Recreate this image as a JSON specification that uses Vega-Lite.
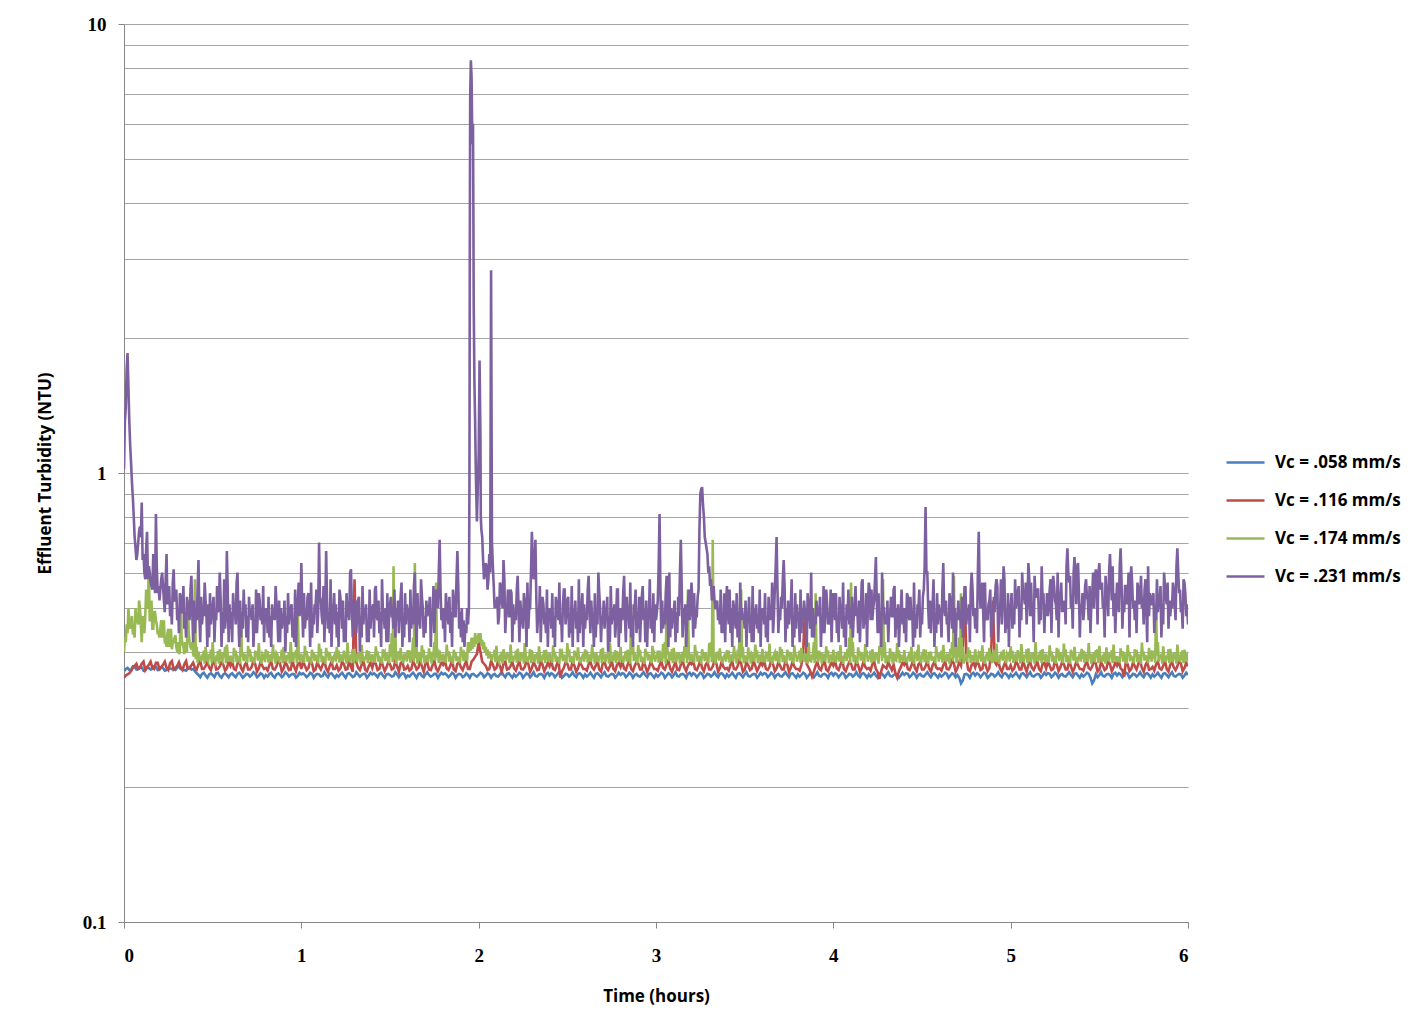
{
  "$schema": "https://vega.github.io/schema/vega-lite/v6.json",
  "width": 1064,
  "height": 898,
  "autosize": "none",
  "padding": {"left": 124, "top": 24, "right": 236, "bottom": 113},
  "background": "white",
  "data": {
    "values": [
      {"t":0.00,"a":0.362,"b":0.350,"c":0.400,"d":1.02},
      {"t":0.02,"a":0.368,"b":0.356,"c":0.440,"d":1.85},
      {"t":0.04,"a":0.365,"b":0.362,"c":0.470,"d":1.05},
      {"t":0.06,"a":0.370,"b":0.372,"c":0.430,"d":0.72},
      {"t":0.08,"a":0.366,"b":0.366,"c":0.460,"d":0.70},
      {"t":0.10,"a":0.369,"b":0.376,"c":0.420,"d":0.86},
      {"t":0.12,"a":0.364,"b":0.364,"c":0.480,"d":0.58},
      {"t":0.14,"a":0.368,"b":0.374,"c":0.620,"d":0.62},
      {"t":0.16,"a":0.366,"b":0.368,"c":0.450,"d":0.55},
      {"t":0.18,"a":0.370,"b":0.378,"c":0.470,"d":0.81},
      {"t":0.20,"a":0.365,"b":0.366,"c":0.430,"d":0.52},
      {"t":0.22,"a":0.368,"b":0.374,"c":0.460,"d":0.56},
      {"t":0.24,"a":0.364,"b":0.368,"c":0.410,"d":0.66},
      {"t":0.26,"a":0.367,"b":0.377,"c":0.440,"d":0.48},
      {"t":0.28,"a":0.365,"b":0.365,"c":0.420,"d":0.61},
      {"t":0.30,"a":0.369,"b":0.372,"c":0.400,"d":0.47},
      {"t":0.32,"a":0.366,"b":0.369,"c":0.530,"d":0.53},
      {"t":0.34,"a":0.364,"b":0.375,"c":0.395,"d":0.45},
      {"t":0.36,"a":0.368,"b":0.366,"c":0.520,"d":0.50},
      {"t":0.38,"a":0.365,"b":0.373,"c":0.405,"d":0.59},
      {"t":0.40,"a":0.362,"b":0.368,"c":0.580,"d":0.44},
      {"t":0.42,"a":0.355,"b":0.375,"c":0.400,"d":0.64},
      {"t":0.44,"a":0.357,"b":0.366,"c":0.390,"d":0.46},
      {"t":0.46,"a":0.354,"b":0.372,"c":0.410,"d":0.52},
      {"t":0.48,"a":0.356,"b":0.369,"c":0.395,"d":0.43},
      {"t":0.50,"a":0.355,"b":0.377,"c":0.420,"d":0.50},
      {"t":0.52,"a":0.358,"b":0.365,"c":0.388,"d":0.47},
      {"t":0.54,"a":0.353,"b":0.371,"c":0.405,"d":0.60},
      {"t":0.56,"a":0.356,"b":0.374,"c":0.398,"d":0.44},
      {"t":0.58,"a":0.355,"b":0.367,"c":0.415,"d":0.67},
      {"t":0.60,"a":0.356,"b":0.372,"c":0.392,"d":0.45},
      {"t":0.62,"a":0.354,"b":0.366,"c":0.408,"d":0.49},
      {"t":0.64,"a":0.357,"b":0.376,"c":0.390,"d":0.60},
      {"t":0.66,"a":0.355,"b":0.368,"c":0.490,"d":0.43},
      {"t":0.68,"a":0.353,"b":0.373,"c":0.396,"d":0.48},
      {"t":0.70,"a":0.356,"b":0.365,"c":0.412,"d":0.42},
      {"t":0.72,"a":0.355,"b":0.370,"c":0.389,"d":0.47},
      {"t":0.74,"a":0.357,"b":0.375,"c":0.402,"d":0.44},
      {"t":0.76,"a":0.354,"b":0.367,"c":0.418,"d":0.54},
      {"t":0.78,"a":0.356,"b":0.372,"c":0.394,"d":0.46},
      {"t":0.80,"a":0.355,"b":0.368,"c":0.405,"d":0.48},
      {"t":0.82,"a":0.357,"b":0.374,"c":0.391,"d":0.43},
      {"t":0.84,"a":0.353,"b":0.366,"c":0.415,"d":0.47},
      {"t":0.86,"a":0.356,"b":0.371,"c":0.397,"d":0.51},
      {"t":0.88,"a":0.355,"b":0.376,"c":0.388,"d":0.42},
      {"t":0.90,"a":0.354,"b":0.367,"c":0.410,"d":0.47},
      {"t":0.92,"a":0.357,"b":0.373,"c":0.393,"d":0.44},
      {"t":0.94,"a":0.355,"b":0.365,"c":0.420,"d":0.50},
      {"t":0.96,"a":0.356,"b":0.370,"c":0.399,"d":0.42},
      {"t":0.98,"a":0.353,"b":0.375,"c":0.500,"d":0.52},
      {"t":1.00,"a":0.356,"b":0.366,"c":0.396,"d":0.63},
      {"t":1.02,"a":0.355,"b":0.372,"c":0.412,"d":0.45},
      {"t":1.04,"a":0.354,"b":0.368,"c":0.389,"d":0.54},
      {"t":1.06,"a":0.357,"b":0.377,"c":0.404,"d":0.43},
      {"t":1.08,"a":0.355,"b":0.365,"c":0.394,"d":0.50},
      {"t":1.10,"a":0.356,"b":0.371,"c":0.417,"d":0.70},
      {"t":1.12,"a":0.353,"b":0.374,"c":0.391,"d":0.46},
      {"t":1.14,"a":0.355,"b":0.367,"c":0.408,"d":0.67},
      {"t":1.16,"a":0.357,"b":0.372,"c":0.398,"d":0.44},
      {"t":1.18,"a":0.354,"b":0.366,"c":0.387,"d":0.49},
      {"t":1.20,"a":0.355,"b":0.373,"c":0.410,"d":0.43},
      {"t":1.22,"a":0.356,"b":0.367,"c":0.393,"d":0.53},
      {"t":1.24,"a":0.354,"b":0.375,"c":0.402,"d":0.42},
      {"t":1.26,"a":0.357,"b":0.366,"c":0.419,"d":0.48},
      {"t":1.28,"a":0.355,"b":0.370,"c":0.390,"d":0.61},
      {"t":1.30,"a":0.353,"b":0.580,"c":0.406,"d":0.46},
      {"t":1.32,"a":0.356,"b":0.368,"c":0.397,"d":0.52},
      {"t":1.34,"a":0.355,"b":0.374,"c":0.414,"d":0.43},
      {"t":1.36,"a":0.357,"b":0.365,"c":0.388,"d":0.48},
      {"t":1.38,"a":0.354,"b":0.371,"c":0.401,"d":0.42},
      {"t":1.40,"a":0.356,"b":0.368,"c":0.395,"d":0.50},
      {"t":1.42,"a":0.355,"b":0.376,"c":0.411,"d":0.56},
      {"t":1.44,"a":0.357,"b":0.366,"c":0.389,"d":0.44},
      {"t":1.46,"a":0.354,"b":0.372,"c":0.405,"d":0.49},
      {"t":1.48,"a":0.356,"b":0.369,"c":0.398,"d":0.42},
      {"t":1.50,"a":0.355,"b":0.375,"c":0.416,"d":0.51},
      {"t":1.52,"a":0.353,"b":0.367,"c":0.620,"d":0.45},
      {"t":1.54,"a":0.356,"b":0.371,"c":0.392,"d":0.47},
      {"t":1.56,"a":0.355,"b":0.377,"c":0.408,"d":0.53},
      {"t":1.58,"a":0.357,"b":0.365,"c":0.396,"d":0.43},
      {"t":1.60,"a":0.354,"b":0.372,"c":0.403,"d":0.49},
      {"t":1.62,"a":0.356,"b":0.366,"c":0.390,"d":0.45},
      {"t":1.64,"a":0.355,"b":0.374,"c":0.630,"d":0.60},
      {"t":1.66,"a":0.357,"b":0.368,"c":0.399,"d":0.46},
      {"t":1.68,"a":0.353,"b":0.371,"c":0.413,"d":0.53},
      {"t":1.70,"a":0.356,"b":0.376,"c":0.388,"d":0.44},
      {"t":1.72,"a":0.355,"b":0.365,"c":0.407,"d":0.50},
      {"t":1.74,"a":0.354,"b":0.373,"c":0.395,"d":0.47},
      {"t":1.76,"a":0.357,"b":0.367,"c":0.570,"d":0.55},
      {"t":1.78,"a":0.355,"b":0.370,"c":0.402,"d":0.71},
      {"t":1.80,"a":0.356,"b":0.374,"c":0.396,"d":0.45},
      {"t":1.82,"a":0.355,"b":0.367,"c":0.415,"d":0.51},
      {"t":1.84,"a":0.354,"b":0.372,"c":0.391,"d":0.44},
      {"t":1.86,"a":0.357,"b":0.365,"c":0.404,"d":0.52},
      {"t":1.88,"a":0.355,"b":0.376,"c":0.389,"d":0.67},
      {"t":1.90,"a":0.356,"b":0.369,"c":0.410,"d":0.43},
      {"t":1.92,"a":0.353,"b":0.373,"c":0.398,"d":0.41},
      {"t":1.94,"a":0.355,"b":0.366,"c":0.420,"d":0.46},
      {"t":1.948,"d":0.95},
      {"t":1.952,"d":6.8},
      {"t":1.956,"d":8.3},
      {"t":1.96,"a":0.356,"b":0.380,"c":0.430,"d":7.6},
      {"t":1.964,"d":5.4},
      {"t":1.968,"d":6.0},
      {"t":1.972,"d":2.4},
      {"t":1.976,"d":1.6},
      {"t":1.98,"a":0.354,"b":0.390,"c":0.440,"d":1.30},
      {"t":1.984,"d":1.0},
      {"t":2.00,"a":0.355,"b":0.420,"c":0.440,"d":1.10},
      {"t":2.005,"d":1.78},
      {"t":2.012,"d":0.80},
      {"t":2.02,"a":0.357,"b":0.380,"c":0.425,"d":0.72},
      {"t":2.04,"a":0.354,"b":0.372,"c":0.410,"d":0.63},
      {"t":2.06,"a":0.356,"b":0.366,"c":0.400,"d":0.66},
      {"t":2.08,"a":0.355,"b":0.374,"c":0.395,"d":0.62},
      {"t":2.10,"a":0.353,"b":0.368,"c":0.412,"d":0.50},
      {"t":2.12,"a":0.356,"b":0.371,"c":0.389,"d":0.57},
      {"t":2.14,"a":0.355,"b":0.376,"c":0.405,"d":0.64},
      {"t":2.16,"a":0.357,"b":0.365,"c":0.397,"d":0.49},
      {"t":2.18,"a":0.354,"b":0.372,"c":0.415,"d":0.55},
      {"t":2.20,"a":0.356,"b":0.367,"c":0.392,"d":0.46},
      {"t":2.22,"a":0.355,"b":0.373,"c":0.406,"d":0.59},
      {"t":2.24,"a":0.357,"b":0.366,"c":0.399,"d":0.48},
      {"t":2.26,"a":0.354,"b":0.370,"c":0.418,"d":0.52},
      {"t":2.28,"a":0.356,"b":0.375,"c":0.388,"d":0.45},
      {"t":2.30,"a":0.355,"b":0.368,"c":0.403,"d":0.74},
      {"t":2.32,"a":0.353,"b":0.372,"c":0.395,"d":0.71},
      {"t":2.34,"a":0.356,"b":0.365,"c":0.411,"d":0.47},
      {"t":2.36,"a":0.355,"b":0.374,"c":0.390,"d":0.53},
      {"t":2.38,"a":0.357,"b":0.369,"c":0.404,"d":0.44},
      {"t":2.40,"a":0.354,"b":0.371,"c":0.397,"d":0.49},
      {"t":2.42,"a":0.356,"b":0.366,"c":0.413,"d":0.43},
      {"t":2.44,"a":0.355,"b":0.374,"c":0.389,"d":0.51},
      {"t":2.46,"a":0.357,"b":0.350,"c":0.406,"d":0.46},
      {"t":2.48,"a":0.353,"b":0.368,"c":0.394,"d":0.55},
      {"t":2.50,"a":0.356,"b":0.376,"c":0.418,"d":0.52},
      {"t":2.52,"a":0.355,"b":0.365,"c":0.391,"d":0.44},
      {"t":2.54,"a":0.354,"b":0.372,"c":0.402,"d":0.48},
      {"t":2.56,"a":0.357,"b":0.367,"c":0.409,"d":0.42},
      {"t":2.58,"a":0.355,"b":0.373,"c":0.388,"d":0.50},
      {"t":2.60,"a":0.356,"b":0.366,"c":0.405,"d":0.45},
      {"t":2.62,"a":0.355,"b":0.375,"c":0.393,"d":0.59},
      {"t":2.64,"a":0.354,"b":0.369,"c":0.415,"d":0.47},
      {"t":2.66,"a":0.357,"b":0.372,"c":0.398,"d":0.43},
      {"t":2.68,"a":0.355,"b":0.365,"c":0.389,"d":0.54},
      {"t":2.70,"a":0.356,"b":0.377,"c":0.408,"d":0.46},
      {"t":2.72,"a":0.353,"b":0.368,"c":0.396,"d":0.49},
      {"t":2.74,"a":0.355,"b":0.371,"c":0.419,"d":0.42},
      {"t":2.76,"a":0.356,"b":0.366,"c":0.392,"d":0.47},
      {"t":2.78,"a":0.354,"b":0.374,"c":0.401,"d":0.55},
      {"t":2.80,"a":0.355,"b":0.370,"c":0.410,"d":0.44},
      {"t":2.82,"a":0.357,"b":0.367,"c":0.390,"d":0.59},
      {"t":2.84,"a":0.354,"b":0.374,"c":0.404,"d":0.48},
      {"t":2.86,"a":0.356,"b":0.366,"c":0.510,"d":0.43},
      {"t":2.88,"a":0.355,"b":0.372,"c":0.397,"d":0.50},
      {"t":2.90,"a":0.353,"b":0.376,"c":0.414,"d":0.45},
      {"t":2.92,"a":0.356,"b":0.365,"c":0.388,"d":0.53},
      {"t":2.94,"a":0.355,"b":0.371,"c":0.406,"d":0.42},
      {"t":2.96,"a":0.357,"b":0.368,"c":0.395,"d":0.48},
      {"t":2.98,"a":0.354,"b":0.373,"c":0.412,"d":0.44},
      {"t":3.00,"a":0.356,"b":0.366,"c":0.393,"d":0.47},
      {"t":3.02,"a":0.355,"b":0.373,"c":0.402,"d":0.81},
      {"t":3.04,"a":0.357,"b":0.368,"c":0.416,"d":0.45},
      {"t":3.06,"a":0.354,"b":0.375,"c":0.530,"d":0.59},
      {"t":3.08,"a":0.356,"b":0.367,"c":0.391,"d":0.43},
      {"t":3.10,"a":0.355,"b":0.371,"c":0.408,"d":0.49},
      {"t":3.12,"a":0.353,"b":0.365,"c":0.399,"d":0.44},
      {"t":3.14,"a":0.356,"b":0.374,"c":0.389,"d":0.71},
      {"t":3.16,"a":0.355,"b":0.369,"c":0.411,"d":0.46},
      {"t":3.18,"a":0.357,"b":0.372,"c":0.550,"d":0.51},
      {"t":3.20,"a":0.354,"b":0.375,"c":0.396,"d":0.57},
      {"t":3.22,"a":0.356,"b":0.366,"c":0.414,"d":0.45},
      {"t":3.24,"a":0.355,"b":0.372,"c":0.392,"d":0.55},
      {"t":3.26,"a":0.357,"b":0.368,"c":0.405,"d":0.93},
      {"t":3.28,"a":0.353,"b":0.374,"c":0.398,"d":0.70},
      {"t":3.30,"a":0.356,"b":0.365,"c":0.418,"d":0.62},
      {"t":3.32,"a":0.355,"b":0.371,"c":0.710,"d":0.55},
      {"t":3.34,"a":0.354,"b":0.377,"c":0.394,"d":0.50},
      {"t":3.36,"a":0.357,"b":0.367,"c":0.407,"d":0.46},
      {"t":3.38,"a":0.355,"b":0.370,"c":0.389,"d":0.44},
      {"t":3.40,"a":0.356,"b":0.368,"c":0.403,"d":0.56},
      {"t":3.42,"a":0.355,"b":0.374,"c":0.391,"d":0.44},
      {"t":3.44,"a":0.354,"b":0.366,"c":0.412,"d":0.50},
      {"t":3.46,"a":0.357,"b":0.371,"c":0.397,"d":0.43},
      {"t":3.48,"a":0.355,"b":0.376,"c":0.550,"d":0.47},
      {"t":3.50,"a":0.356,"b":0.365,"c":0.390,"d":0.45},
      {"t":3.52,"a":0.353,"b":0.373,"c":0.409,"d":0.48},
      {"t":3.54,"a":0.355,"b":0.367,"c":0.396,"d":0.42},
      {"t":3.56,"a":0.356,"b":0.372,"c":0.415,"d":0.46},
      {"t":3.58,"a":0.354,"b":0.369,"c":0.388,"d":0.44},
      {"t":3.60,"a":0.355,"b":0.373,"c":0.406,"d":0.49},
      {"t":3.62,"a":0.357,"b":0.366,"c":0.395,"d":0.43},
      {"t":3.64,"a":0.354,"b":0.370,"c":0.417,"d":0.47},
      {"t":3.66,"a":0.356,"b":0.375,"c":0.389,"d":0.44},
      {"t":3.68,"a":0.355,"b":0.367,"c":0.401,"d":0.72},
      {"t":3.70,"a":0.353,"b":0.372,"c":0.410,"d":0.47},
      {"t":3.72,"a":0.356,"b":0.365,"c":0.393,"d":0.64},
      {"t":3.74,"a":0.355,"b":0.374,"c":0.404,"d":0.45},
      {"t":3.76,"a":0.357,"b":0.368,"c":0.398,"d":0.50},
      {"t":3.78,"a":0.354,"b":0.371,"c":0.413,"d":0.43},
      {"t":3.80,"a":0.356,"b":0.366,"c":0.391,"d":0.47},
      {"t":3.82,"a":0.355,"b":0.374,"c":0.408,"d":0.44},
      {"t":3.84,"a":0.357,"b":0.500,"c":0.396,"d":0.49},
      {"t":3.86,"a":0.354,"b":0.369,"c":0.419,"d":0.51},
      {"t":3.88,"a":0.356,"b":0.352,"c":0.390,"d":0.43},
      {"t":3.90,"a":0.355,"b":0.372,"c":0.540,"d":0.46},
      {"t":3.92,"a":0.353,"b":0.367,"c":0.402,"d":0.48},
      {"t":3.94,"a":0.356,"b":0.375,"c":0.394,"d":0.44},
      {"t":3.96,"a":0.355,"b":0.365,"c":0.411,"d":0.55},
      {"t":3.98,"a":0.357,"b":0.371,"c":0.388,"d":0.46},
      {"t":4.00,"a":0.354,"b":0.372,"c":0.404,"d":0.54},
      {"t":4.02,"a":0.356,"b":0.367,"c":0.397,"d":0.44},
      {"t":4.04,"a":0.355,"b":0.374,"c":0.414,"d":0.49},
      {"t":4.06,"a":0.357,"b":0.366,"c":0.389,"d":0.43},
      {"t":4.08,"a":0.353,"b":0.371,"c":0.406,"d":0.47},
      {"t":4.10,"a":0.356,"b":0.376,"c":0.570,"d":0.45},
      {"t":4.12,"a":0.355,"b":0.365,"c":0.393,"d":0.50},
      {"t":4.14,"a":0.354,"b":0.373,"c":0.409,"d":0.44},
      {"t":4.16,"a":0.357,"b":0.368,"c":0.399,"d":0.57},
      {"t":4.18,"a":0.355,"b":0.370,"c":0.416,"d":0.46},
      {"t":4.20,"a":0.356,"b":0.368,"c":0.391,"d":0.57},
      {"t":4.22,"a":0.355,"b":0.375,"c":0.405,"d":0.47},
      {"t":4.24,"a":0.354,"b":0.366,"c":0.398,"d":0.65},
      {"t":4.26,"a":0.357,"b":0.348,"c":0.412,"d":0.44},
      {"t":4.28,"a":0.355,"b":0.373,"c":0.580,"d":0.50},
      {"t":4.30,"a":0.356,"b":0.367,"c":0.390,"d":0.46},
      {"t":4.32,"a":0.353,"b":0.371,"c":0.407,"d":0.48},
      {"t":4.34,"a":0.355,"b":0.374,"c":0.395,"d":0.55},
      {"t":4.36,"a":0.356,"b":0.350,"c":0.418,"d":0.45},
      {"t":4.38,"a":0.354,"b":0.369,"c":0.392,"d":0.49},
      {"t":4.40,"a":0.355,"b":0.374,"c":0.403,"d":0.44},
      {"t":4.42,"a":0.357,"b":0.366,"c":0.389,"d":0.53},
      {"t":4.44,"a":0.354,"b":0.372,"c":0.410,"d":0.47},
      {"t":4.46,"a":0.356,"b":0.368,"c":0.396,"d":0.43},
      {"t":4.48,"a":0.355,"b":0.375,"c":0.415,"d":0.50},
      {"t":4.50,"a":0.353,"b":0.365,"c":0.392,"d":0.46},
      {"t":4.52,"a":0.356,"b":0.371,"c":0.404,"d":0.84},
      {"t":4.54,"a":0.355,"b":0.367,"c":0.399,"d":0.45},
      {"t":4.56,"a":0.357,"b":0.373,"c":0.388,"d":0.51},
      {"t":4.58,"a":0.354,"b":0.369,"c":0.411,"d":0.44},
      {"t":4.60,"a":0.356,"b":0.367,"c":0.397,"d":0.49},
      {"t":4.62,"a":0.355,"b":0.373,"c":0.414,"d":0.63},
      {"t":4.64,"a":0.357,"b":0.366,"c":0.391,"d":0.46},
      {"t":4.66,"a":0.354,"b":0.371,"c":0.406,"d":0.52},
      {"t":4.68,"a":0.356,"b":0.376,"c":0.590,"d":0.44},
      {"t":4.70,"a":0.355,"b":0.368,"c":0.398,"d":0.48},
      {"t":4.72,"a":0.340,"b":0.372,"c":0.540,"d":0.45},
      {"t":4.74,"a":0.356,"b":0.560,"c":0.393,"d":0.51},
      {"t":4.76,"a":0.355,"b":0.365,"c":0.409,"d":0.47},
      {"t":4.78,"a":0.357,"b":0.374,"c":0.390,"d":0.60},
      {"t":4.80,"a":0.354,"b":0.369,"c":0.405,"d":0.45},
      {"t":4.82,"a":0.356,"b":0.375,"c":0.396,"d":0.74},
      {"t":4.84,"a":0.355,"b":0.366,"c":0.413,"d":0.57},
      {"t":4.86,"a":0.357,"b":0.372,"c":0.390,"d":0.47},
      {"t":4.88,"a":0.353,"b":0.368,"c":0.408,"d":0.52},
      {"t":4.90,"a":0.356,"b":0.520,"c":0.399,"d":0.46},
      {"t":4.92,"a":0.355,"b":0.374,"c":0.417,"d":0.58},
      {"t":4.94,"a":0.354,"b":0.367,"c":0.392,"d":0.48},
      {"t":4.96,"a":0.357,"b":0.371,"c":0.404,"d":0.62},
      {"t":4.98,"a":0.355,"b":0.366,"c":0.395,"d":0.45},
      {"t":5.00,"a":0.356,"b":0.373,"c":0.411,"d":0.50},
      {"t":5.02,"a":0.355,"b":0.367,"c":0.389,"d":0.46},
      {"t":5.04,"a":0.354,"b":0.375,"c":0.403,"d":0.54},
      {"t":5.06,"a":0.357,"b":0.365,"c":0.416,"d":0.47},
      {"t":5.08,"a":0.355,"b":0.370,"c":0.394,"d":0.51},
      {"t":5.10,"a":0.356,"b":0.374,"c":0.407,"d":0.63},
      {"t":5.12,"a":0.353,"b":0.368,"c":0.398,"d":0.48},
      {"t":5.14,"a":0.355,"b":0.372,"c":0.420,"d":0.53},
      {"t":5.16,"a":0.356,"b":0.366,"c":0.391,"d":0.46},
      {"t":5.18,"a":0.354,"b":0.376,"c":0.405,"d":0.52},
      {"t":5.20,"a":0.355,"b":0.367,"c":0.396,"d":0.48},
      {"t":5.22,"a":0.357,"b":0.372,"c":0.413,"d":0.55},
      {"t":5.24,"a":0.354,"b":0.366,"c":0.390,"d":0.59},
      {"t":5.26,"a":0.356,"b":0.374,"c":0.408,"d":0.47},
      {"t":5.28,"a":0.355,"b":0.369,"c":0.399,"d":0.53},
      {"t":5.30,"a":0.353,"b":0.375,"c":0.417,"d":0.49},
      {"t":5.32,"a":0.356,"b":0.365,"c":0.393,"d":0.68},
      {"t":5.34,"a":0.355,"b":0.371,"c":0.404,"d":0.50},
      {"t":5.36,"a":0.357,"b":0.368,"c":0.410,"d":0.65},
      {"t":5.38,"a":0.354,"b":0.373,"c":0.388,"d":0.63},
      {"t":5.40,"a":0.356,"b":0.366,"c":0.406,"d":0.49},
      {"t":5.42,"a":0.355,"b":0.374,"c":0.395,"d":0.56},
      {"t":5.44,"a":0.357,"b":0.368,"c":0.418,"d":0.47},
      {"t":5.46,"a":0.340,"b":0.371,"c":0.392,"d":0.54},
      {"t":5.48,"a":0.356,"b":0.376,"c":0.403,"d":0.61},
      {"t":5.50,"a":0.355,"b":0.365,"c":0.412,"d":0.63},
      {"t":5.52,"a":0.353,"b":0.372,"c":0.389,"d":0.50},
      {"t":5.54,"a":0.356,"b":0.367,"c":0.409,"d":0.55},
      {"t":5.56,"a":0.355,"b":0.375,"c":0.397,"d":0.66},
      {"t":5.58,"a":0.357,"b":0.369,"c":0.415,"d":0.48},
      {"t":5.60,"a":0.354,"b":0.372,"c":0.391,"d":0.57},
      {"t":5.62,"a":0.356,"b":0.367,"c":0.407,"d":0.68},
      {"t":5.64,"a":0.355,"b":0.352,"c":0.399,"d":0.49},
      {"t":5.66,"a":0.357,"b":0.374,"c":0.414,"d":0.53},
      {"t":5.68,"a":0.353,"b":0.366,"c":0.390,"d":0.62},
      {"t":5.70,"a":0.356,"b":0.371,"c":0.405,"d":0.47},
      {"t":5.72,"a":0.355,"b":0.376,"c":0.396,"d":0.55},
      {"t":5.74,"a":0.354,"b":0.368,"c":0.419,"d":0.50},
      {"t":5.76,"a":0.357,"b":0.373,"c":0.393,"d":0.58},
      {"t":5.78,"a":0.355,"b":0.365,"c":0.408,"d":0.48},
      {"t":5.80,"a":0.356,"b":0.370,"c":0.402,"d":0.53},
      {"t":5.82,"a":0.355,"b":0.375,"c":0.510,"d":0.47},
      {"t":5.84,"a":0.354,"b":0.367,"c":0.394,"d":0.52},
      {"t":5.86,"a":0.357,"b":0.372,"c":0.411,"d":0.46},
      {"t":5.88,"a":0.355,"b":0.366,"c":0.389,"d":0.51},
      {"t":5.90,"a":0.356,"b":0.374,"c":0.406,"d":0.48},
      {"t":5.92,"a":0.353,"b":0.369,"c":0.398,"d":0.55},
      {"t":5.94,"a":0.355,"b":0.371,"c":0.415,"d":0.68},
      {"t":5.96,"a":0.356,"b":0.376,"c":0.392,"d":0.49},
      {"t":5.98,"a":0.354,"b":0.368,"c":0.404,"d":0.57},
      {"t":6.00,"a":0.355,"b":0.371,"c":0.400,"d":0.46},
      {"t":0.01,"a":0.366,"b":0.354,"c":0.420,"d":1.40},
      {"t":0.03,"a":0.364,"b":0.358,"c":0.455,"d":1.30},
      {"t":0.05,"a":0.371,"b":0.368,"c":0.440,"d":0.88},
      {"t":0.07,"a":0.365,"b":0.376,"c":0.470,"d":0.64},
      {"t":0.09,"a":0.370,"b":0.368,"c":0.500,"d":0.76},
      {"t":0.11,"a":0.363,"b":0.380,"c":0.450,"d":0.66},
      {"t":0.13,"a":0.369,"b":0.370,"c":0.520,"d":0.74},
      {"t":0.15,"a":0.365,"b":0.380,"c":0.470,"d":0.57},
      {"t":0.17,"a":0.371,"b":0.366,"c":0.490,"d":0.62},
      {"t":0.19,"a":0.364,"b":0.378,"c":0.440,"d":0.54},
      {"t":0.21,"a":0.369,"b":0.370,"c":0.470,"d":0.58},
      {"t":0.23,"a":0.363,"b":0.380,"c":0.420,"d":0.49},
      {"t":0.25,"a":0.368,"b":0.364,"c":0.450,"d":0.55},
      {"t":0.27,"a":0.366,"b":0.381,"c":0.405,"d":0.46},
      {"t":0.29,"a":0.364,"b":0.368,"c":0.435,"d":0.52},
      {"t":0.31,"a":0.370,"b":0.379,"c":0.395,"d":0.44},
      {"t":0.33,"a":0.365,"b":0.364,"c":0.415,"d":0.49},
      {"t":0.35,"a":0.363,"b":0.381,"c":0.400,"d":0.43},
      {"t":0.37,"a":0.369,"b":0.368,"c":0.420,"d":0.47},
      {"t":0.39,"a":0.366,"b":0.378,"c":0.395,"d":0.42},
      {"t":0.41,"a":0.358,"b":0.365,"c":0.410,"d":0.47},
      {"t":0.43,"a":0.351,"b":0.382,"c":0.386,"d":0.42},
      {"t":0.45,"a":0.359,"b":0.366,"c":0.402,"d":0.48},
      {"t":0.47,"a":0.350,"b":0.380,"c":0.385,"d":0.41},
      {"t":0.49,"a":0.358,"b":0.364,"c":0.404,"d":0.46},
      {"t":0.51,"a":0.351,"b":0.382,"c":0.384,"d":0.42},
      {"t":0.53,"a":0.359,"b":0.366,"c":0.401,"d":0.49},
      {"t":0.55,"a":0.350,"b":0.380,"c":0.386,"d":0.41},
      {"t":0.57,"a":0.358,"b":0.363,"c":0.410,"d":0.45},
      {"t":0.59,"a":0.351,"b":0.381,"c":0.385,"d":0.42},
      {"t":0.61,"a":0.358,"b":0.381,"c":0.385,"d":0.42},
      {"t":0.63,"a":0.351,"b":0.364,"c":0.402,"d":0.46},
      {"t":0.65,"a":0.359,"b":0.383,"c":0.383,"d":0.41},
      {"t":0.67,"a":0.350,"b":0.362,"c":0.398,"d":0.45},
      {"t":0.69,"a":0.357,"b":0.379,"c":0.386,"d":0.43},
      {"t":0.71,"a":0.352,"b":0.365,"c":0.405,"d":0.48},
      {"t":0.73,"a":0.360,"b":0.382,"c":0.382,"d":0.41},
      {"t":0.75,"a":0.351,"b":0.361,"c":0.400,"d":0.44},
      {"t":0.77,"a":0.358,"b":0.380,"c":0.387,"d":0.47},
      {"t":0.79,"a":0.350,"b":0.366,"c":0.396,"d":0.42},
      {"t":0.81,"a":0.352,"b":0.363,"c":0.401,"d":0.44},
      {"t":0.83,"a":0.359,"b":0.380,"c":0.384,"d":0.41},
      {"t":0.85,"a":0.350,"b":0.365,"c":0.397,"d":0.47},
      {"t":0.87,"a":0.358,"b":0.383,"c":0.383,"d":0.42},
      {"t":0.89,"a":0.351,"b":0.361,"c":0.404,"d":0.45},
      {"t":0.91,"a":0.360,"b":0.379,"c":0.386,"d":0.40},
      {"t":0.93,"a":0.352,"b":0.364,"c":0.399,"d":0.46},
      {"t":0.95,"a":0.357,"b":0.382,"c":0.382,"d":0.43},
      {"t":0.97,"a":0.350,"b":0.362,"c":0.403,"d":0.41},
      {"t":0.99,"a":0.359,"b":0.378,"c":0.385,"d":0.48},
      {"t":1.01,"a":0.358,"b":0.381,"c":0.386,"d":0.43},
      {"t":1.03,"a":0.351,"b":0.364,"c":0.401,"d":0.47},
      {"t":1.05,"a":0.359,"b":0.383,"c":0.384,"d":0.41},
      {"t":1.07,"a":0.350,"b":0.362,"c":0.399,"d":0.46},
      {"t":1.09,"a":0.357,"b":0.379,"c":0.385,"d":0.44},
      {"t":1.11,"a":0.352,"b":0.365,"c":0.406,"d":0.52},
      {"t":1.13,"a":0.360,"b":0.382,"c":0.383,"d":0.42},
      {"t":1.15,"a":0.351,"b":0.361,"c":0.400,"d":0.45},
      {"t":1.17,"a":0.358,"b":0.380,"c":0.388,"d":0.41},
      {"t":1.19,"a":0.350,"b":0.366,"c":0.395,"d":0.46},
      {"t":1.21,"a":0.352,"b":0.363,"c":0.402,"d":0.41},
      {"t":1.23,"a":0.359,"b":0.380,"c":0.385,"d":0.45},
      {"t":1.25,"a":0.350,"b":0.365,"c":0.396,"d":0.42},
      {"t":1.27,"a":0.358,"b":0.383,"c":0.382,"d":0.47},
      {"t":1.29,"a":0.351,"b":0.361,"c":0.405,"d":0.43},
      {"t":1.31,"a":0.360,"b":0.379,"c":0.387,"d":0.44},
      {"t":1.33,"a":0.352,"b":0.364,"c":0.398,"d":0.40},
      {"t":1.35,"a":0.357,"b":0.382,"c":0.383,"d":0.46},
      {"t":1.37,"a":0.350,"b":0.362,"c":0.403,"d":0.42},
      {"t":1.39,"a":0.359,"b":0.378,"c":0.386,"d":0.45},
      {"t":1.41,"a":0.358,"b":0.381,"c":0.384,"d":0.43},
      {"t":1.43,"a":0.351,"b":0.364,"c":0.400,"d":0.47},
      {"t":1.45,"a":0.359,"b":0.383,"c":0.383,"d":0.41},
      {"t":1.47,"a":0.350,"b":0.362,"c":0.398,"d":0.45},
      {"t":1.49,"a":0.357,"b":0.379,"c":0.386,"d":0.42},
      {"t":1.51,"a":0.352,"b":0.365,"c":0.440,"d":0.48},
      {"t":1.53,"a":0.360,"b":0.382,"c":0.450,"d":0.43},
      {"t":1.55,"a":0.351,"b":0.361,"c":0.401,"d":0.44},
      {"t":1.57,"a":0.358,"b":0.380,"c":0.387,"d":0.41},
      {"t":1.59,"a":0.350,"b":0.366,"c":0.396,"d":0.46},
      {"t":1.61,"a":0.352,"b":0.363,"c":0.403,"d":0.42},
      {"t":1.63,"a":0.359,"b":0.380,"c":0.430,"d":0.46},
      {"t":1.65,"a":0.350,"b":0.365,"c":0.410,"d":0.41},
      {"t":1.67,"a":0.358,"b":0.383,"c":0.384,"d":0.45},
      {"t":1.69,"a":0.351,"b":0.361,"c":0.404,"d":0.43},
      {"t":1.71,"a":0.360,"b":0.379,"c":0.386,"d":0.48},
      {"t":1.73,"a":0.352,"b":0.364,"c":0.399,"d":0.41},
      {"t":1.75,"a":0.357,"b":0.382,"c":0.420,"d":0.44},
      {"t":1.77,"a":0.350,"b":0.362,"c":0.405,"d":0.50},
      {"t":1.79,"a":0.359,"b":0.378,"c":0.385,"d":0.47},
      {"t":1.81,"a":0.358,"b":0.381,"c":0.386,"d":0.42},
      {"t":1.83,"a":0.351,"b":0.364,"c":0.401,"d":0.46},
      {"t":1.85,"a":0.359,"b":0.383,"c":0.384,"d":0.41},
      {"t":1.87,"a":0.350,"b":0.362,"c":0.399,"d":0.48},
      {"t":1.89,"a":0.357,"b":0.379,"c":0.385,"d":0.45},
      {"t":1.91,"a":0.351,"b":0.364,"c":0.402,"d":0.42},
      {"t":1.93,"a":0.358,"b":0.381,"c":0.386,"d":0.44},
      {"t":1.95,"a":0.350,"b":0.366,"c":0.420,"d":3.0},
      {"t":1.97,"a":0.357,"b":0.384,"c":0.430,"d":4.0},
      {"t":1.99,"a":0.352,"b":0.395,"c":0.435,"d":0.78},
      {"t":2.01,"a":0.359,"b":0.400,"c":0.440,"d":1.2},
      {"t":2.03,"a":0.351,"b":0.376,"c":0.420,"d":0.58},
      {"t":2.05,"a":0.358,"b":0.364,"c":0.405,"d":0.55},
      {"t":2.07,"a":0.350,"b":0.381,"c":0.390,"d":2.83},
      {"t":2.09,"a":0.357,"b":0.365,"c":0.404,"d":0.50},
      {"t":2.11,"a":0.352,"b":0.382,"c":0.383,"d":0.46},
      {"t":2.13,"a":0.360,"b":0.361,"c":0.400,"d":0.52},
      {"t":2.15,"a":0.351,"b":0.380,"c":0.387,"d":0.44},
      {"t":2.17,"a":0.358,"b":0.366,"c":0.396,"d":0.48},
      {"t":2.19,"a":0.350,"b":0.379,"c":0.385,"d":0.42},
      {"t":2.21,"a":0.352,"b":0.363,"c":0.402,"d":0.47},
      {"t":2.23,"a":0.359,"b":0.380,"c":0.385,"d":0.42},
      {"t":2.25,"a":0.350,"b":0.365,"c":0.396,"d":0.45},
      {"t":2.27,"a":0.358,"b":0.383,"c":0.382,"d":0.41},
      {"t":2.29,"a":0.351,"b":0.361,"c":0.405,"d":0.50},
      {"t":2.31,"a":0.360,"b":0.379,"c":0.387,"d":0.58},
      {"t":2.33,"a":0.352,"b":0.364,"c":0.398,"d":0.44},
      {"t":2.35,"a":0.357,"b":0.382,"c":0.383,"d":0.42},
      {"t":2.37,"a":0.350,"b":0.362,"c":0.403,"d":0.46},
      {"t":2.39,"a":0.359,"b":0.378,"c":0.386,"d":0.41},
      {"t":2.41,"a":0.358,"b":0.381,"c":0.384,"d":0.45},
      {"t":2.43,"a":0.351,"b":0.364,"c":0.400,"d":0.41},
      {"t":2.45,"a":0.359,"b":0.383,"c":0.383,"d":0.47},
      {"t":2.47,"a":0.350,"b":0.362,"c":0.398,"d":0.42},
      {"t":2.49,"a":0.357,"b":0.379,"c":0.386,"d":0.46},
      {"t":2.51,"a":0.352,"b":0.365,"c":0.405,"d":0.43},
      {"t":2.53,"a":0.360,"b":0.382,"c":0.382,"d":0.41},
      {"t":2.55,"a":0.351,"b":0.361,"c":0.400,"d":0.45},
      {"t":2.57,"a":0.358,"b":0.380,"c":0.387,"d":0.44},
      {"t":2.59,"a":0.350,"b":0.366,"c":0.396,"d":0.41},
      {"t":2.61,"a":0.352,"b":0.363,"c":0.402,"d":0.47},
      {"t":2.63,"a":0.359,"b":0.380,"c":0.385,"d":0.44},
      {"t":2.65,"a":0.350,"b":0.365,"c":0.396,"d":0.41},
      {"t":2.67,"a":0.358,"b":0.383,"c":0.382,"d":0.46},
      {"t":2.69,"a":0.351,"b":0.361,"c":0.405,"d":0.42},
      {"t":2.71,"a":0.360,"b":0.379,"c":0.387,"d":0.45},
      {"t":2.73,"a":0.352,"b":0.364,"c":0.398,"d":0.40},
      {"t":2.75,"a":0.357,"b":0.382,"c":0.383,"d":0.46},
      {"t":2.77,"a":0.350,"b":0.362,"c":0.403,"d":0.43},
      {"t":2.79,"a":0.359,"b":0.378,"c":0.386,"d":0.41},
      {"t":2.81,"a":0.358,"b":0.381,"c":0.385,"d":0.47},
      {"t":2.83,"a":0.351,"b":0.364,"c":0.401,"d":0.42},
      {"t":2.85,"a":0.359,"b":0.383,"c":0.384,"d":0.45},
      {"t":2.87,"a":0.350,"b":0.362,"c":0.420,"d":0.41},
      {"t":2.89,"a":0.357,"b":0.379,"c":0.385,"d":0.44},
      {"t":2.91,"a":0.352,"b":0.365,"c":0.404,"d":0.42},
      {"t":2.93,"a":0.360,"b":0.382,"c":0.383,"d":0.47},
      {"t":2.95,"a":0.351,"b":0.361,"c":0.400,"d":0.41},
      {"t":2.97,"a":0.358,"b":0.380,"c":0.388,"d":0.45},
      {"t":2.99,"a":0.350,"b":0.366,"c":0.395,"d":0.42},
      {"t":3.01,"a":0.352,"b":0.363,"c":0.402,"d":0.52},
      {"t":3.03,"a":0.359,"b":0.380,"c":0.385,"d":0.44},
      {"t":3.05,"a":0.350,"b":0.365,"c":0.420,"d":0.46},
      {"t":3.07,"a":0.358,"b":0.383,"c":0.400,"d":0.41},
      {"t":3.09,"a":0.351,"b":0.361,"c":0.405,"d":0.45},
      {"t":3.11,"a":0.360,"b":0.379,"c":0.387,"d":0.42},
      {"t":3.13,"a":0.352,"b":0.364,"c":0.398,"d":0.48},
      {"t":3.15,"a":0.357,"b":0.382,"c":0.383,"d":0.43},
      {"t":3.17,"a":0.350,"b":0.362,"c":0.430,"d":0.41},
      {"t":3.19,"a":0.359,"b":0.378,"c":0.386,"d":0.47},
      {"t":3.21,"a":0.358,"b":0.381,"c":0.385,"d":0.43},
      {"t":3.23,"a":0.351,"b":0.364,"c":0.401,"d":0.48},
      {"t":3.25,"a":0.359,"b":0.383,"c":0.384,"d":0.90},
      {"t":3.27,"a":0.350,"b":0.362,"c":0.399,"d":0.80},
      {"t":3.29,"a":0.357,"b":0.379,"c":0.385,"d":0.66},
      {"t":3.31,"a":0.352,"b":0.365,"c":0.420,"d":0.58},
      {"t":3.33,"a":0.360,"b":0.382,"c":0.383,"d":0.52},
      {"t":3.35,"a":0.351,"b":0.361,"c":0.400,"d":0.47},
      {"t":3.37,"a":0.358,"b":0.380,"c":0.387,"d":0.44},
      {"t":3.39,"a":0.350,"b":0.366,"c":0.396,"d":0.42},
      {"t":3.41,"a":0.352,"b":0.363,"c":0.402,"d":0.46},
      {"t":3.43,"a":0.359,"b":0.380,"c":0.385,"d":0.41},
      {"t":3.45,"a":0.350,"b":0.365,"c":0.396,"d":0.45},
      {"t":3.47,"a":0.358,"b":0.383,"c":0.420,"d":0.42},
      {"t":3.49,"a":0.351,"b":0.361,"c":0.410,"d":0.47},
      {"t":3.51,"a":0.360,"b":0.379,"c":0.387,"d":0.41},
      {"t":3.53,"a":0.352,"b":0.364,"c":0.398,"d":0.44},
      {"t":3.55,"a":0.357,"b":0.382,"c":0.383,"d":0.42},
      {"t":3.57,"a":0.350,"b":0.362,"c":0.403,"d":0.45},
      {"t":3.59,"a":0.359,"b":0.378,"c":0.386,"d":0.41},
      {"t":3.61,"a":0.358,"b":0.381,"c":0.384,"d":0.46},
      {"t":3.63,"a":0.351,"b":0.364,"c":0.400,"d":0.42},
      {"t":3.65,"a":0.359,"b":0.383,"c":0.383,"d":0.47},
      {"t":3.67,"a":0.350,"b":0.362,"c":0.398,"d":0.55},
      {"t":3.69,"a":0.357,"b":0.379,"c":0.386,"d":0.44},
      {"t":3.71,"a":0.352,"b":0.365,"c":0.405,"d":0.50},
      {"t":3.73,"a":0.360,"b":0.382,"c":0.382,"d":0.42},
      {"t":3.75,"a":0.351,"b":0.361,"c":0.400,"d":0.46},
      {"t":3.77,"a":0.358,"b":0.380,"c":0.387,"d":0.41},
      {"t":3.79,"a":0.350,"b":0.366,"c":0.396,"d":0.45},
      {"t":3.81,"a":0.352,"b":0.363,"c":0.402,"d":0.42},
      {"t":3.83,"a":0.359,"b":0.400,"c":0.385,"d":0.47},
      {"t":3.85,"a":0.350,"b":0.375,"c":0.396,"d":0.41},
      {"t":3.87,"a":0.358,"b":0.362,"c":0.382,"d":0.45},
      {"t":3.89,"a":0.351,"b":0.361,"c":0.420,"d":0.43},
      {"t":3.91,"a":0.360,"b":0.379,"c":0.387,"d":0.48},
      {"t":3.93,"a":0.352,"b":0.364,"c":0.398,"d":0.41},
      {"t":3.95,"a":0.357,"b":0.382,"c":0.383,"d":0.44},
      {"t":3.97,"a":0.350,"b":0.362,"c":0.403,"d":0.46},
      {"t":3.99,"a":0.359,"b":0.378,"c":0.386,"d":0.42},
      {"t":4.01,"a":0.358,"b":0.381,"c":0.385,"d":0.47},
      {"t":4.03,"a":0.351,"b":0.364,"c":0.401,"d":0.42},
      {"t":4.05,"a":0.359,"b":0.383,"c":0.384,"d":0.45},
      {"t":4.07,"a":0.350,"b":0.362,"c":0.399,"d":0.41},
      {"t":4.09,"a":0.357,"b":0.379,"c":0.430,"d":0.46},
      {"t":4.11,"a":0.352,"b":0.365,"c":0.420,"d":0.43},
      {"t":4.13,"a":0.360,"b":0.382,"c":0.383,"d":0.48},
      {"t":4.15,"a":0.351,"b":0.361,"c":0.400,"d":0.42},
      {"t":4.17,"a":0.358,"b":0.380,"c":0.388,"d":0.45},
      {"t":4.19,"a":0.350,"b":0.366,"c":0.395,"d":0.41},
      {"t":4.21,"a":0.352,"b":0.363,"c":0.402,"d":0.47},
      {"t":4.23,"a":0.359,"b":0.380,"c":0.385,"d":0.52},
      {"t":4.25,"a":0.350,"b":0.360,"c":0.396,"d":0.44},
      {"t":4.27,"a":0.358,"b":0.362,"c":0.430,"d":0.41},
      {"t":4.29,"a":0.351,"b":0.370,"c":0.420,"d":0.46},
      {"t":4.31,"a":0.360,"b":0.379,"c":0.387,"d":0.42},
      {"t":4.33,"a":0.352,"b":0.364,"c":0.398,"d":0.48},
      {"t":4.35,"a":0.357,"b":0.358,"c":0.383,"d":0.43},
      {"t":4.37,"a":0.350,"b":0.362,"c":0.403,"d":0.41},
      {"t":4.39,"a":0.359,"b":0.378,"c":0.386,"d":0.46},
      {"t":4.41,"a":0.358,"b":0.381,"c":0.384,"d":0.42},
      {"t":4.43,"a":0.351,"b":0.364,"c":0.400,"d":0.47},
      {"t":4.45,"a":0.359,"b":0.383,"c":0.383,"d":0.41},
      {"t":4.47,"a":0.350,"b":0.362,"c":0.398,"d":0.45},
      {"t":4.49,"a":0.357,"b":0.379,"c":0.386,"d":0.43},
      {"t":4.51,"a":0.352,"b":0.365,"c":0.405,"d":0.55},
      {"t":4.53,"a":0.360,"b":0.382,"c":0.382,"d":0.60},
      {"t":4.55,"a":0.351,"b":0.361,"c":0.400,"d":0.44},
      {"t":4.57,"a":0.358,"b":0.380,"c":0.387,"d":0.41},
      {"t":4.59,"a":0.350,"b":0.366,"c":0.396,"d":0.46},
      {"t":4.61,"a":0.352,"b":0.363,"c":0.402,"d":0.43},
      {"t":4.63,"a":0.359,"b":0.380,"c":0.385,"d":0.48},
      {"t":4.65,"a":0.350,"b":0.365,"c":0.396,"d":0.42},
      {"t":4.67,"a":0.358,"b":0.383,"c":0.420,"d":0.45},
      {"t":4.69,"a":0.351,"b":0.361,"c":0.440,"d":0.41},
      {"t":4.71,"a":0.350,"b":0.379,"c":0.430,"d":0.47},
      {"t":4.73,"a":0.345,"b":0.400,"c":0.410,"d":0.43},
      {"t":4.75,"a":0.357,"b":0.390,"c":0.383,"d":0.46},
      {"t":4.77,"a":0.350,"b":0.362,"c":0.403,"d":0.42},
      {"t":4.79,"a":0.359,"b":0.378,"c":0.386,"d":0.48},
      {"t":4.81,"a":0.358,"b":0.381,"c":0.385,"d":0.44},
      {"t":4.83,"a":0.351,"b":0.364,"c":0.401,"d":0.50},
      {"t":4.85,"a":0.359,"b":0.383,"c":0.384,"d":0.42},
      {"t":4.87,"a":0.350,"b":0.362,"c":0.399,"d":0.47},
      {"t":4.89,"a":0.357,"b":0.400,"c":0.385,"d":0.43},
      {"t":4.91,"a":0.352,"b":0.380,"c":0.404,"d":0.49},
      {"t":4.93,"a":0.360,"b":0.382,"c":0.383,"d":0.42},
      {"t":4.95,"a":0.351,"b":0.361,"c":0.400,"d":0.46},
      {"t":4.97,"a":0.358,"b":0.380,"c":0.388,"d":0.44},
      {"t":4.99,"a":0.350,"b":0.366,"c":0.395,"d":0.41},
      {"t":5.01,"a":0.352,"b":0.363,"c":0.402,"d":0.45},
      {"t":5.03,"a":0.359,"b":0.380,"c":0.385,"d":0.50},
      {"t":5.05,"a":0.350,"b":0.365,"c":0.396,"d":0.43},
      {"t":5.07,"a":0.358,"b":0.383,"c":0.382,"d":0.53},
      {"t":5.09,"a":0.351,"b":0.361,"c":0.405,"d":0.46},
      {"t":5.11,"a":0.360,"b":0.379,"c":0.387,"d":0.48},
      {"t":5.13,"a":0.352,"b":0.364,"c":0.398,"d":0.42},
      {"t":5.15,"a":0.357,"b":0.382,"c":0.383,"d":0.55},
      {"t":5.17,"a":0.350,"b":0.362,"c":0.403,"d":0.47},
      {"t":5.19,"a":0.359,"b":0.378,"c":0.386,"d":0.44},
      {"t":5.21,"a":0.358,"b":0.381,"c":0.384,"d":0.48},
      {"t":5.23,"a":0.351,"b":0.364,"c":0.400,"d":0.44},
      {"t":5.25,"a":0.359,"b":0.383,"c":0.383,"d":0.52},
      {"t":5.27,"a":0.350,"b":0.362,"c":0.398,"d":0.43},
      {"t":5.29,"a":0.357,"b":0.379,"c":0.386,"d":0.49},
      {"t":5.31,"a":0.352,"b":0.365,"c":0.405,"d":0.46},
      {"t":5.33,"a":0.360,"b":0.382,"c":0.382,"d":0.57},
      {"t":5.35,"a":0.351,"b":0.361,"c":0.400,"d":0.45},
      {"t":5.37,"a":0.358,"b":0.380,"c":0.387,"d":0.51},
      {"t":5.39,"a":0.350,"b":0.366,"c":0.396,"d":0.43},
      {"t":5.41,"a":0.352,"b":0.363,"c":0.402,"d":0.47},
      {"t":5.43,"a":0.359,"b":0.380,"c":0.385,"d":0.53},
      {"t":5.45,"a":0.350,"b":0.365,"c":0.396,"d":0.44},
      {"t":5.47,"a":0.345,"b":0.383,"c":0.382,"d":0.50},
      {"t":5.49,"a":0.351,"b":0.361,"c":0.405,"d":0.46},
      {"t":5.51,"a":0.360,"b":0.379,"c":0.387,"d":0.55},
      {"t":5.53,"a":0.352,"b":0.364,"c":0.398,"d":0.43},
      {"t":5.55,"a":0.357,"b":0.382,"c":0.383,"d":0.48},
      {"t":5.57,"a":0.350,"b":0.362,"c":0.403,"d":0.52},
      {"t":5.59,"a":0.359,"b":0.378,"c":0.386,"d":0.44},
      {"t":5.61,"a":0.358,"b":0.381,"c":0.385,"d":0.49},
      {"t":5.63,"a":0.351,"b":0.364,"c":0.401,"d":0.45},
      {"t":5.65,"a":0.359,"b":0.383,"c":0.384,"d":0.56},
      {"t":5.67,"a":0.350,"b":0.362,"c":0.399,"d":0.43},
      {"t":5.69,"a":0.357,"b":0.379,"c":0.385,"d":0.50},
      {"t":5.71,"a":0.352,"b":0.365,"c":0.404,"d":0.44},
      {"t":5.73,"a":0.360,"b":0.382,"c":0.383,"d":0.53},
      {"t":5.75,"a":0.351,"b":0.361,"c":0.400,"d":0.46},
      {"t":5.77,"a":0.358,"b":0.380,"c":0.388,"d":0.42},
      {"t":5.79,"a":0.350,"b":0.366,"c":0.395,"d":0.51},
      {"t":5.81,"a":0.352,"b":0.363,"c":0.402,"d":0.44},
      {"t":5.83,"a":0.359,"b":0.380,"c":0.420,"d":0.49},
      {"t":5.85,"a":0.350,"b":0.365,"c":0.396,"d":0.43},
      {"t":5.87,"a":0.358,"b":0.383,"c":0.382,"d":0.56},
      {"t":5.89,"a":0.351,"b":0.361,"c":0.405,"d":0.45},
      {"t":5.91,"a":0.360,"b":0.379,"c":0.387,"d":0.50},
      {"t":5.93,"a":0.352,"b":0.364,"c":0.398,"d":0.47},
      {"t":5.95,"a":0.357,"b":0.382,"c":0.383,"d":0.54},
      {"t":5.97,"a":0.350,"b":0.362,"c":0.403,"d":0.45},
      {"t":5.99,"a":0.359,"b":0.378,"c":0.386,"d":0.48},
      {"t":0.005,"c":0.43,"d":1.30},{"t":0.015,"c":0.46,"d":1.70},{"t":0.025,"c":0.50,"d":1.55},{"t":0.035,"c":0.45,"d":1.15},{"t":0.045,"c":0.48,"d":0.95},
      {"t":0.055,"c":0.44,"d":0.80},{"t":0.065,"c":0.50,"d":0.68},{"t":0.075,"c":0.47,"d":0.66},{"t":0.085,"c":0.52,"d":0.74},{"t":0.095,"c":0.46,"d":0.72},
      {"t":0.105,"c":0.48,"d":0.64},{"t":0.115,"c":0.44,"d":0.60},{"t":0.125,"c":0.55,"d":0.68},{"t":0.135,"c":0.50,"d":0.58},{"t":0.145,"c":0.47,"d":0.60},
      {"t":0.155,"c":0.52,"d":0.56},{"t":0.165,"c":0.45,"d":0.66},{"t":0.175,"c":0.49,"d":0.54},{"t":0.185,"c":0.46,"d":0.62},{"t":0.195,"c":0.44,"d":0.56},
      {"t":0.205,"c":0.45,"d":0.55},{"t":0.215,"c":0.43,"d":0.60},{"t":0.225,"c":0.47,"d":0.52},{"t":0.235,"c":0.42,"d":0.58},{"t":0.245,"c":0.44,"d":0.51},
      {"t":0.255,"c":0.41,"d":0.56},{"t":0.265,"c":0.45,"d":0.50},{"t":0.275,"c":0.42,"d":0.57},{"t":0.285,"c":0.43,"d":0.52},{"t":0.295,"c":0.41,"d":0.55},
      {"t":0.305,"c":0.42,"d":0.50},{"t":0.315,"c":0.40,"d":0.54},{"t":0.325,"c":0.43,"d":0.49},{"t":0.335,"c":0.41,"d":0.56},{"t":0.345,"c":0.42,"d":0.48},
      {"t":0.355,"c":0.40,"d":0.53},{"t":0.365,"c":0.44,"d":0.50},{"t":0.375,"c":0.41,"d":0.55},{"t":0.385,"c":0.42,"d":0.49},{"t":0.395,"c":0.39,"d":0.52},
      {"t":0.405,"c":0.385,"d":0.50},{"t":0.415,"c":0.378,"d":0.55},{"t":0.425,"c":0.392,"d":0.48},{"t":0.435,"c":0.380,"d":0.53},{"t":0.445,"c":0.388,"d":0.49},
      {"t":0.455,"c":0.376,"d":0.57},{"t":0.465,"c":0.394,"d":0.48},{"t":0.475,"c":0.381,"d":0.51},{"t":0.485,"c":0.387,"d":0.54},{"t":0.495,"c":0.377,"d":0.49},
      {"t":0.505,"c":0.390,"d":0.53},{"t":0.515,"c":0.379,"d":0.48},{"t":0.525,"c":0.386,"d":0.56},{"t":0.535,"c":0.376,"d":0.50},{"t":0.545,"c":0.393,"d":0.52},
      {"t":0.555,"c":0.382,"d":0.49},{"t":0.565,"c":0.388,"d":0.58},{"t":0.575,"c":0.377,"d":0.48},{"t":0.585,"c":0.391,"d":0.55},{"t":0.595,"c":0.380,"d":0.51},
      {"t":0.605,"c":0.384,"d":0.49},{"t":0.615,"c":0.377,"d":0.54},{"t":0.625,"c":0.392,"d":0.50},{"t":0.635,"c":0.379,"d":0.57},{"t":0.645,"c":0.387,"d":0.48},
      {"t":0.655,"c":0.376,"d":0.52},{"t":0.665,"c":0.390,"d":0.49},{"t":0.675,"c":0.381,"d":0.55},{"t":0.685,"c":0.386,"d":0.51},{"t":0.695,"c":0.378,"d":0.48},
      {"t":0.705,"c":0.391,"d":0.53},{"t":0.715,"c":0.380,"d":0.49},{"t":0.725,"c":0.385,"d":0.51},{"t":0.735,"c":0.377,"d":0.47},{"t":0.745,"c":0.393,"d":0.55},
      {"t":0.755,"c":0.382,"d":0.49},{"t":0.765,"c":0.388,"d":0.52},{"t":0.775,"c":0.376,"d":0.48},{"t":0.785,"c":0.390,"d":0.56},{"t":0.795,"c":0.379,"d":0.50},
      {"t":0.805,"c":0.386,"d":0.50},{"t":0.815,"c":0.378,"d":0.53},{"t":0.825,"c":0.392,"d":0.48},{"t":0.835,"c":0.380,"d":0.51},{"t":0.845,"c":0.387,"d":0.49},
      {"t":0.855,"c":0.376,"d":0.56},{"t":0.865,"c":0.394,"d":0.48},{"t":0.875,"c":0.381,"d":0.52},{"t":0.885,"c":0.388,"d":0.50},{"t":0.895,"c":0.377,"d":0.47},
      {"t":0.905,"c":0.389,"d":0.52},{"t":0.915,"c":0.379,"d":0.48},{"t":0.925,"c":0.386,"d":0.54},{"t":0.935,"c":0.376,"d":0.49},{"t":0.945,"c":0.392,"d":0.51},
      {"t":0.955,"c":0.382,"d":0.47},{"t":0.965,"c":0.388,"d":0.55},{"t":0.975,"c":0.377,"d":0.49},{"t":0.985,"c":0.391,"d":0.57},{"t":0.995,"c":0.380,"d":0.50},
      {"t":1.005,"c":0.386,"d":0.50},{"t":1.015,"c":0.378,"d":0.54},{"t":1.025,"c":0.392,"d":0.48},{"t":1.035,"c":0.380,"d":0.53},{"t":1.045,"c":0.387,"d":0.49},
      {"t":1.055,"c":0.376,"d":0.57},{"t":1.065,"c":0.394,"d":0.48},{"t":1.075,"c":0.381,"d":0.51},{"t":1.085,"c":0.388,"d":0.55},{"t":1.095,"c":0.377,"d":0.49},
      {"t":1.105,"c":0.390,"d":0.53},{"t":1.115,"c":0.379,"d":0.48},{"t":1.125,"c":0.386,"d":0.56},{"t":1.135,"c":0.376,"d":0.50},{"t":1.145,"c":0.393,"d":0.52},
      {"t":1.155,"c":0.382,"d":0.49},{"t":1.165,"c":0.388,"d":0.58},{"t":1.175,"c":0.377,"d":0.48},{"t":1.185,"c":0.391,"d":0.54},{"t":1.195,"c":0.380,"d":0.51},
      {"t":1.205,"c":0.386,"d":0.49},{"t":1.215,"c":0.378,"d":0.55},{"t":1.225,"c":0.392,"d":0.50},{"t":1.235,"c":0.380,"d":0.52},{"t":1.245,"c":0.387,"d":0.47},
      {"t":1.255,"c":0.376,"d":0.54},{"t":1.265,"c":0.394,"d":0.49},{"t":1.275,"c":0.381,"d":0.60},{"t":1.285,"c":0.388,"d":0.50},{"t":1.295,"c":0.377,"d":0.48},
      {"t":1.305,"c":0.390,"d":0.52},{"t":1.315,"c":0.379,"d":0.49},{"t":1.325,"c":0.386,"d":0.53},{"t":1.335,"c":0.376,"d":0.48},{"t":1.345,"c":0.393,"d":0.56},
      {"t":1.355,"c":0.382,"d":0.50},{"t":1.365,"c":0.388,"d":0.51},{"t":1.375,"c":0.377,"d":0.47},{"t":1.385,"c":0.391,"d":0.55},{"t":1.395,"c":0.380,"d":0.50},
      {"t":1.405,"c":0.386,"d":0.51},{"t":1.415,"c":0.378,"d":0.55},{"t":1.425,"c":0.392,"d":0.48},{"t":1.435,"c":0.380,"d":0.52},{"t":1.445,"c":0.387,"d":0.49},
      {"t":1.455,"c":0.376,"d":0.58},{"t":1.465,"c":0.394,"d":0.48},{"t":1.475,"c":0.381,"d":0.50},{"t":1.485,"c":0.388,"d":0.54},{"t":1.495,"c":0.377,"d":0.49},
      {"t":1.505,"c":0.390,"d":0.53},{"t":1.515,"c":0.379,"d":0.48},{"t":1.525,"c":0.386,"d":0.55},{"t":1.535,"c":0.376,"d":0.50},{"t":1.545,"c":0.393,"d":0.52},
      {"t":1.555,"c":0.382,"d":0.49},{"t":1.565,"c":0.388,"d":0.57},{"t":1.575,"c":0.377,"d":0.48},{"t":1.585,"c":0.391,"d":0.54},{"t":1.595,"c":0.380,"d":0.51},
      {"t":1.605,"c":0.386,"d":0.49},{"t":1.615,"c":0.378,"d":0.55},{"t":1.625,"c":0.392,"d":0.50},{"t":1.635,"c":0.380,"d":0.56},{"t":1.645,"c":0.387,"d":0.47},
      {"t":1.655,"c":0.376,"d":0.54},{"t":1.665,"c":0.394,"d":0.49},{"t":1.675,"c":0.381,"d":0.58},{"t":1.685,"c":0.388,"d":0.50},{"t":1.695,"c":0.377,"d":0.48},
      {"t":1.705,"c":0.390,"d":0.52},{"t":1.715,"c":0.379,"d":0.49},{"t":1.725,"c":0.386,"d":0.53},{"t":1.735,"c":0.376,"d":0.48},{"t":1.745,"c":0.393,"d":0.56},
      {"t":1.755,"c":0.382,"d":0.50},{"t":1.765,"c":0.388,"d":0.53},{"t":1.775,"c":0.377,"d":0.60},{"t":1.785,"c":0.391,"d":0.55},{"t":1.795,"c":0.380,"d":0.50},
      {"t":1.805,"c":0.386,"d":0.50},{"t":1.815,"c":0.378,"d":0.54},{"t":1.825,"c":0.392,"d":0.48},{"t":1.835,"c":0.380,"d":0.53},{"t":1.845,"c":0.387,"d":0.49},
      {"t":1.855,"c":0.376,"d":0.55},{"t":1.865,"c":0.394,"d":0.48},{"t":1.875,"c":0.381,"d":0.58},{"t":1.885,"c":0.388,"d":0.56},{"t":1.895,"c":0.377,"d":0.49},
      {"t":1.905,"c":0.392,"d":0.50},{"t":1.915,"c":0.381,"d":0.47},{"t":1.925,"c":0.395,"d":0.46},{"t":1.935,"c":0.384,"d":0.50},{"t":1.945,"c":0.398,"d":0.50},
      {"t":1.955,"c":0.402},{"t":1.965,"c":0.405},{"t":1.975,"c":0.410},{"t":1.985,"c":0.415},{"t":1.995,"c":0.418},
      {"t":2.005,"c":0.420},{"t":2.015,"c":0.412,"d":0.75},{"t":2.025,"c":0.405,"d":0.64},{"t":2.035,"c":0.398,"d":0.60},{"t":2.045,"c":0.392,"d":0.62},
      {"t":2.055,"c":0.386,"d":0.58},{"t":2.065,"c":0.394,"d":0.60},{"t":2.075,"c":0.382,"d":0.70},{"t":2.085,"c":0.390,"d":0.56},{"t":2.095,"c":0.379,"d":0.52},
      {"t":2.105,"c":0.390,"d":0.53},{"t":2.115,"c":0.379,"d":0.48},{"t":2.125,"c":0.386,"d":0.56},{"t":2.135,"c":0.376,"d":0.50},{"t":2.145,"c":0.393,"d":0.58},
      {"t":2.155,"c":0.382,"d":0.49},{"t":2.165,"c":0.388,"d":0.55},{"t":2.175,"c":0.377,"d":0.48},{"t":2.185,"c":0.391,"d":0.54},{"t":2.195,"c":0.380,"d":0.51},
      {"t":2.205,"c":0.386,"d":0.49},{"t":2.215,"c":0.378,"d":0.55},{"t":2.225,"c":0.392,"d":0.50},{"t":2.235,"c":0.380,"d":0.52},{"t":2.245,"c":0.387,"d":0.47},
      {"t":2.255,"c":0.376,"d":0.54},{"t":2.265,"c":0.394,"d":0.49},{"t":2.275,"c":0.381,"d":0.57},{"t":2.285,"c":0.388,"d":0.50},{"t":2.295,"c":0.377,"d":0.60},
      {"t":2.305,"c":0.390,"d":0.65},{"t":2.315,"c":0.379,"d":0.60},{"t":2.325,"c":0.386,"d":0.53},{"t":2.335,"c":0.376,"d":0.48},{"t":2.345,"c":0.393,"d":0.56},
      {"t":2.355,"c":0.382,"d":0.50},{"t":2.365,"c":0.388,"d":0.51},{"t":2.375,"c":0.377,"d":0.47},{"t":2.385,"c":0.391,"d":0.55},{"t":2.395,"c":0.380,"d":0.50},
      {"t":2.405,"c":0.386,"d":0.50},{"t":2.415,"c":0.378,"d":0.54},{"t":2.425,"c":0.392,"d":0.48},{"t":2.435,"c":0.380,"d":0.53},{"t":2.445,"c":0.387,"d":0.49},
      {"t":2.455,"c":0.376,"d":0.57},{"t":2.465,"c":0.394,"d":0.48},{"t":2.475,"c":0.381,"d":0.51},{"t":2.485,"c":0.388,"d":0.55},{"t":2.495,"c":0.377,"d":0.49},
      {"t":2.505,"c":0.390,"d":0.53},{"t":2.515,"c":0.379,"d":0.48},{"t":2.525,"c":0.386,"d":0.56},{"t":2.535,"c":0.376,"d":0.50},{"t":2.545,"c":0.393,"d":0.52},
      {"t":2.555,"c":0.382,"d":0.49},{"t":2.565,"c":0.388,"d":0.58},{"t":2.575,"c":0.377,"d":0.48},{"t":2.585,"c":0.391,"d":0.54},{"t":2.595,"c":0.380,"d":0.51},
      {"t":2.605,"c":0.386,"d":0.49},{"t":2.615,"c":0.378,"d":0.55},{"t":2.625,"c":0.392,"d":0.50},{"t":2.635,"c":0.380,"d":0.52},{"t":2.645,"c":0.387,"d":0.47},
      {"t":2.655,"c":0.376,"d":0.54},{"t":2.665,"c":0.394,"d":0.49},{"t":2.675,"c":0.381,"d":0.60},{"t":2.685,"c":0.388,"d":0.50},{"t":2.695,"c":0.377,"d":0.48},
      {"t":2.705,"c":0.390,"d":0.52},{"t":2.715,"c":0.379,"d":0.49},{"t":2.725,"c":0.386,"d":0.53},{"t":2.735,"c":0.376,"d":0.48},{"t":2.745,"c":0.393,"d":0.56},
      {"t":2.755,"c":0.382,"d":0.50},{"t":2.765,"c":0.388,"d":0.51},{"t":2.775,"c":0.377,"d":0.47},{"t":2.785,"c":0.391,"d":0.55},{"t":2.795,"c":0.380,"d":0.50},
      {"t":2.805,"c":0.386,"d":0.50},{"t":2.815,"c":0.378,"d":0.54},{"t":2.825,"c":0.392,"d":0.48},{"t":2.835,"c":0.380,"d":0.53},{"t":2.845,"c":0.387,"d":0.49},
      {"t":2.855,"c":0.376,"d":0.57},{"t":2.865,"c":0.394,"d":0.48},{"t":2.875,"c":0.381,"d":0.51},{"t":2.885,"c":0.388,"d":0.55},{"t":2.895,"c":0.377,"d":0.49},
      {"t":2.905,"c":0.390,"d":0.53},{"t":2.915,"c":0.379,"d":0.48},{"t":2.925,"c":0.386,"d":0.56},{"t":2.935,"c":0.376,"d":0.50},{"t":2.945,"c":0.393,"d":0.52},
      {"t":2.955,"c":0.382,"d":0.49},{"t":2.965,"c":0.388,"d":0.58},{"t":2.975,"c":0.377,"d":0.48},{"t":2.985,"c":0.391,"d":0.54},{"t":2.995,"c":0.380,"d":0.51},
      {"t":3.005,"c":0.386,"d":0.49},{"t":3.015,"c":0.378,"d":0.62},{"t":3.025,"c":0.392,"d":0.55},{"t":3.035,"c":0.380,"d":0.52},{"t":3.045,"c":0.387,"d":0.47},
      {"t":3.055,"c":0.376,"d":0.54},{"t":3.065,"c":0.394,"d":0.49},{"t":3.075,"c":0.381,"d":0.60},{"t":3.085,"c":0.388,"d":0.50},{"t":3.095,"c":0.377,"d":0.48},
      {"t":3.105,"c":0.390,"d":0.52},{"t":3.115,"c":0.379,"d":0.49},{"t":3.125,"c":0.386,"d":0.53},{"t":3.135,"c":0.376,"d":0.60},{"t":3.145,"c":0.393,"d":0.56},
      {"t":3.155,"c":0.382,"d":0.50},{"t":3.165,"c":0.388,"d":0.51},{"t":3.175,"c":0.377,"d":0.47},{"t":3.185,"c":0.391,"d":0.55},{"t":3.195,"c":0.380,"d":0.50},
      {"t":3.205,"c":0.386,"d":0.52},{"t":3.215,"c":0.378,"d":0.54},{"t":3.225,"c":0.392,"d":0.48},{"t":3.235,"c":0.380,"d":0.53},{"t":3.245,"c":0.387,"d":0.75},
      {"t":3.255,"c":0.376,"d":0.92},{"t":3.265,"c":0.394,"d":0.85},{"t":3.275,"c":0.381,"d":0.72},{"t":3.285,"c":0.388,"d":0.68},{"t":3.295,"c":0.377,"d":0.60},
      {"t":3.305,"c":0.390,"d":0.56},{"t":3.315,"c":0.379,"d":0.52},{"t":3.325,"c":0.386,"d":0.56},{"t":3.335,"c":0.376,"d":0.50},{"t":3.345,"c":0.393,"d":0.52},
      {"t":3.355,"c":0.382,"d":0.49},{"t":3.365,"c":0.388,"d":0.55},{"t":3.375,"c":0.377,"d":0.48},{"t":3.385,"c":0.391,"d":0.54},{"t":3.395,"c":0.380,"d":0.51},
      {"t":3.405,"c":0.386,"d":0.49},{"t":3.415,"c":0.378,"d":0.55},{"t":3.425,"c":0.392,"d":0.50},{"t":3.435,"c":0.380,"d":0.52},{"t":3.445,"c":0.387,"d":0.47},
      {"t":3.455,"c":0.376,"d":0.54},{"t":3.465,"c":0.394,"d":0.49},{"t":3.475,"c":0.381,"d":0.57},{"t":3.485,"c":0.388,"d":0.50},{"t":3.495,"c":0.377,"d":0.48},
      {"t":3.505,"c":0.390,"d":0.52},{"t":3.515,"c":0.379,"d":0.49},{"t":3.525,"c":0.386,"d":0.53},{"t":3.535,"c":0.376,"d":0.48},{"t":3.545,"c":0.393,"d":0.56},
      {"t":3.555,"c":0.382,"d":0.50},{"t":3.565,"c":0.388,"d":0.51},{"t":3.575,"c":0.377,"d":0.47},{"t":3.585,"c":0.391,"d":0.55},{"t":3.595,"c":0.380,"d":0.50},
      {"t":3.605,"c":0.386,"d":0.50},{"t":3.615,"c":0.378,"d":0.54},{"t":3.625,"c":0.392,"d":0.48},{"t":3.635,"c":0.380,"d":0.53},{"t":3.645,"c":0.387,"d":0.49},
      {"t":3.655,"c":0.376,"d":0.57},{"t":3.665,"c":0.394,"d":0.48},{"t":3.675,"c":0.381,"d":0.62},{"t":3.685,"c":0.388,"d":0.55},{"t":3.695,"c":0.377,"d":0.49},
      {"t":3.705,"c":0.390,"d":0.53},{"t":3.715,"c":0.379,"d":0.58},{"t":3.725,"c":0.386,"d":0.56},{"t":3.735,"c":0.376,"d":0.50},{"t":3.745,"c":0.393,"d":0.52},
      {"t":3.755,"c":0.382,"d":0.49},{"t":3.765,"c":0.388,"d":0.58},{"t":3.775,"c":0.377,"d":0.48},{"t":3.785,"c":0.391,"d":0.54},{"t":3.795,"c":0.380,"d":0.51},
      {"t":3.805,"c":0.386,"d":0.49},{"t":3.815,"c":0.378,"d":0.55},{"t":3.825,"c":0.392,"d":0.50},{"t":3.835,"c":0.380,"d":0.52},{"t":3.845,"c":0.387,"d":0.47},
      {"t":3.855,"c":0.376,"d":0.54},{"t":3.865,"c":0.394,"d":0.49},{"t":3.875,"c":0.381,"d":0.60},{"t":3.885,"c":0.388,"d":0.50},{"t":3.895,"c":0.377,"d":0.48},
      {"t":3.905,"c":0.390,"d":0.52},{"t":3.915,"c":0.379,"d":0.49},{"t":3.925,"c":0.386,"d":0.53},{"t":3.935,"c":0.376,"d":0.48},{"t":3.945,"c":0.393,"d":0.56},
      {"t":3.955,"c":0.382,"d":0.50},{"t":3.965,"c":0.388,"d":0.51},{"t":3.975,"c":0.377,"d":0.47},{"t":3.985,"c":0.391,"d":0.55},{"t":3.995,"c":0.380,"d":0.50},
      {"t":4.005,"c":0.386,"d":0.50},{"t":4.015,"c":0.378,"d":0.54},{"t":4.025,"c":0.392,"d":0.48},{"t":4.035,"c":0.380,"d":0.53},{"t":4.045,"c":0.387,"d":0.49},
      {"t":4.055,"c":0.376,"d":0.57},{"t":4.065,"c":0.394,"d":0.48},{"t":4.075,"c":0.381,"d":0.51},{"t":4.085,"c":0.388,"d":0.55},{"t":4.095,"c":0.377,"d":0.49},
      {"t":4.105,"c":0.390,"d":0.53},{"t":4.115,"c":0.379,"d":0.48},{"t":4.125,"c":0.386,"d":0.56},{"t":4.135,"c":0.376,"d":0.50},{"t":4.145,"c":0.393,"d":0.52},
      {"t":4.155,"c":0.382,"d":0.49},{"t":4.165,"c":0.388,"d":0.58},{"t":4.175,"c":0.377,"d":0.48},{"t":4.185,"c":0.391,"d":0.54},{"t":4.195,"c":0.380,"d":0.51},
      {"t":4.205,"c":0.386,"d":0.55},{"t":4.215,"c":0.378,"d":0.55},{"t":4.225,"c":0.392,"d":0.50},{"t":4.235,"c":0.380,"d":0.58},{"t":4.245,"c":0.387,"d":0.52},
      {"t":4.255,"c":0.376,"d":0.54},{"t":4.265,"c":0.394,"d":0.49},{"t":4.275,"c":0.381,"d":0.60},{"t":4.285,"c":0.388,"d":0.50},{"t":4.295,"c":0.377,"d":0.48},
      {"t":4.305,"c":0.390,"d":0.52},{"t":4.315,"c":0.379,"d":0.49},{"t":4.325,"c":0.386,"d":0.53},{"t":4.335,"c":0.376,"d":0.48},{"t":4.345,"c":0.393,"d":0.56},
      {"t":4.355,"c":0.382,"d":0.50},{"t":4.365,"c":0.388,"d":0.51},{"t":4.375,"c":0.377,"d":0.47},{"t":4.385,"c":0.391,"d":0.55},{"t":4.395,"c":0.380,"d":0.50},
      {"t":4.405,"c":0.386,"d":0.50},{"t":4.415,"c":0.378,"d":0.54},{"t":4.425,"c":0.392,"d":0.48},{"t":4.435,"c":0.380,"d":0.53},{"t":4.445,"c":0.387,"d":0.49},
      {"t":4.455,"c":0.376,"d":0.57},{"t":4.465,"c":0.394,"d":0.48},{"t":4.475,"c":0.381,"d":0.51},{"t":4.485,"c":0.388,"d":0.55},{"t":4.495,"c":0.377,"d":0.49},
      {"t":4.505,"c":0.390,"d":0.53},{"t":4.515,"c":0.379,"d":0.62},{"t":4.525,"c":0.386,"d":0.60},{"t":4.535,"c":0.376,"d":0.50},{"t":4.545,"c":0.393,"d":0.52},
      {"t":4.555,"c":0.382,"d":0.49},{"t":4.565,"c":0.388,"d":0.58},{"t":4.575,"c":0.377,"d":0.48},{"t":4.585,"c":0.391,"d":0.54},{"t":4.595,"c":0.380,"d":0.51},
      {"t":4.605,"c":0.386,"d":0.49},{"t":4.615,"c":0.378,"d":0.55},{"t":4.625,"c":0.392,"d":0.50},{"t":4.635,"c":0.380,"d":0.52},{"t":4.645,"c":0.387,"d":0.47},
      {"t":4.655,"c":0.376,"d":0.54},{"t":4.665,"c":0.394,"d":0.49},{"t":4.675,"c":0.381,"d":0.60},{"t":4.685,"c":0.388,"d":0.50},{"t":4.695,"c":0.377,"d":0.48},
      {"t":4.705,"c":0.390,"d":0.52},{"t":4.715,"c":0.379,"d":0.49},{"t":4.725,"c":0.386,"d":0.53},{"t":4.735,"c":0.376,"d":0.48},{"t":4.745,"c":0.393,"d":0.56},
      {"t":4.755,"c":0.382,"d":0.50},{"t":4.765,"c":0.388,"d":0.51},{"t":4.775,"c":0.377,"d":0.55},{"t":4.785,"c":0.391,"d":0.55},{"t":4.795,"c":0.380,"d":0.50},
      {"t":4.805,"c":0.386,"d":0.50},{"t":4.815,"c":0.378,"d":0.60},{"t":4.825,"c":0.392,"d":0.55},{"t":4.835,"c":0.380,"d":0.53},{"t":4.845,"c":0.387,"d":0.49},
      {"t":4.855,"c":0.376,"d":0.57},{"t":4.865,"c":0.394,"d":0.48},{"t":4.875,"c":0.381,"d":0.51},{"t":4.885,"c":0.388,"d":0.55},{"t":4.895,"c":0.377,"d":0.49},
      {"t":4.905,"c":0.390,"d":0.53},{"t":4.915,"c":0.379,"d":0.56},{"t":4.925,"c":0.386,"d":0.56},{"t":4.935,"c":0.376,"d":0.50},{"t":4.945,"c":0.393,"d":0.58},
      {"t":4.955,"c":0.382,"d":0.52},{"t":4.965,"c":0.388,"d":0.58},{"t":4.975,"c":0.377,"d":0.48},{"t":4.985,"c":0.391,"d":0.54},{"t":4.995,"c":0.380,"d":0.51},
      {"t":5.005,"c":0.386,"d":0.54},{"t":5.015,"c":0.378,"d":0.50},{"t":5.025,"c":0.392,"d":0.58},{"t":5.035,"c":0.380,"d":0.52},{"t":5.045,"c":0.387,"d":0.56},
      {"t":5.055,"c":0.376,"d":0.51},{"t":5.065,"c":0.394,"d":0.60},{"t":5.075,"c":0.381,"d":0.53},{"t":5.085,"c":0.388,"d":0.57},{"t":5.095,"c":0.377,"d":0.52},
      {"t":5.105,"c":0.390,"d":0.58},{"t":5.115,"c":0.379,"d":0.57},{"t":5.125,"c":0.386,"d":0.51},{"t":5.135,"c":0.376,"d":0.59},{"t":5.145,"c":0.393,"d":0.53},
      {"t":5.155,"c":0.382,"d":0.55},{"t":5.165,"c":0.388,"d":0.50},{"t":5.175,"c":0.377,"d":0.62},{"t":5.185,"c":0.391,"d":0.54},{"t":5.195,"c":0.380,"d":0.51},
      {"t":5.205,"c":0.386,"d":0.54},{"t":5.215,"c":0.378,"d":0.50},{"t":5.225,"c":0.392,"d":0.58},{"t":5.235,"c":0.380,"d":0.56},{"t":5.245,"c":0.387,"d":0.56},
      {"t":5.255,"c":0.376,"d":0.51},{"t":5.265,"c":0.394,"d":0.60},{"t":5.275,"c":0.381,"d":0.53},{"t":5.285,"c":0.388,"d":0.57},{"t":5.295,"c":0.377,"d":0.52},
      {"t":5.305,"c":0.390,"d":0.52},{"t":5.315,"c":0.379,"d":0.62},{"t":5.325,"c":0.386,"d":0.60},{"t":5.335,"c":0.376,"d":0.59},{"t":5.345,"c":0.393,"d":0.53},
      {"t":5.355,"c":0.382,"d":0.60},{"t":5.365,"c":0.388,"d":0.58},{"t":5.375,"c":0.377,"d":0.62},{"t":5.385,"c":0.391,"d":0.54},{"t":5.395,"c":0.380,"d":0.51},
      {"t":5.405,"c":0.386,"d":0.54},{"t":5.415,"c":0.378,"d":0.50},{"t":5.425,"c":0.392,"d":0.58},{"t":5.435,"c":0.380,"d":0.52},{"t":5.445,"c":0.387,"d":0.56},
      {"t":5.455,"c":0.376,"d":0.51},{"t":5.465,"c":0.394,"d":0.60},{"t":5.475,"c":0.381,"d":0.58},{"t":5.485,"c":0.388,"d":0.57},{"t":5.495,"c":0.377,"d":0.60},
      {"t":5.505,"c":0.390,"d":0.56},{"t":5.515,"c":0.379,"d":0.57},{"t":5.525,"c":0.386,"d":0.51},{"t":5.535,"c":0.376,"d":0.59},{"t":5.545,"c":0.393,"d":0.53},
      {"t":5.555,"c":0.382,"d":0.60},{"t":5.565,"c":0.388,"d":0.58},{"t":5.575,"c":0.377,"d":0.62},{"t":5.585,"c":0.391,"d":0.54},{"t":5.595,"c":0.380,"d":0.51},
      {"t":5.605,"c":0.386,"d":0.54},{"t":5.615,"c":0.378,"d":0.62},{"t":5.625,"c":0.392,"d":0.58},{"t":5.635,"c":0.380,"d":0.52},{"t":5.645,"c":0.387,"d":0.56},
      {"t":5.655,"c":0.376,"d":0.51},{"t":5.665,"c":0.394,"d":0.60},{"t":5.675,"c":0.381,"d":0.57},{"t":5.685,"c":0.388,"d":0.57},{"t":5.695,"c":0.377,"d":0.52},
      {"t":5.705,"c":0.390,"d":0.52},{"t":5.715,"c":0.379,"d":0.57},{"t":5.725,"c":0.386,"d":0.51},{"t":5.735,"c":0.376,"d":0.59},{"t":5.745,"c":0.393,"d":0.53},
      {"t":5.755,"c":0.382,"d":0.55},{"t":5.765,"c":0.388,"d":0.50},{"t":5.775,"c":0.377,"d":0.62},{"t":5.785,"c":0.391,"d":0.54},{"t":5.795,"c":0.380,"d":0.51},
      {"t":5.805,"c":0.386,"d":0.54},{"t":5.815,"c":0.378,"d":0.50},{"t":5.825,"c":0.392,"d":0.58},{"t":5.835,"c":0.380,"d":0.52},{"t":5.845,"c":0.387,"d":0.56},
      {"t":5.855,"c":0.376,"d":0.51},{"t":5.865,"c":0.394,"d":0.60},{"t":5.875,"c":0.381,"d":0.53},{"t":5.885,"c":0.388,"d":0.57},{"t":5.895,"c":0.377,"d":0.52},
      {"t":5.905,"c":0.390,"d":0.52},{"t":5.915,"c":0.379,"d":0.57},{"t":5.925,"c":0.386,"d":0.51},{"t":5.935,"c":0.376,"d":0.62},{"t":5.945,"c":0.393,"d":0.60},
      {"t":5.955,"c":0.382,"d":0.55},{"t":5.965,"c":0.388,"d":0.50},{"t":5.975,"c":0.377,"d":0.58},{"t":5.985,"c":0.391,"d":0.54},{"t":5.995,"c":0.380,"d":0.51}
    ]
  },
  "transform": [
    {"fold": ["a", "b", "c", "d"], "as": ["series", "v"]},
    {"filter": "isValid(datum.v)"}
  ],
  "mark": {"type": "line", "strokeWidth": 2.6, "strokeJoin": "miter", "clip": true},
  "encoding": {
    "x": {
      "field": "t",
      "type": "quantitative",
      "title": "Time (hours)",
      "scale": {"domain": [0, 6], "nice": false, "zero": false},
      "axis": {
        "values": [0, 1, 2, 3, 4, 5, 6],
        "format": "d",
        "grid": false,
        "domainColor": "#868686",
        "tickColor": "#868686",
        "tickSize": 6,
        "labelFont": "Liberation Serif",
        "labelFontWeight": "bold",
        "labelFontSize": 19,
        "labelColor": "black",
        "labelPadding": 18,
        "titleFont": "Open Sans",
        "titleFontWeight": "bold",
        "titleFontSize": 17,
        "titleColor": "black",
        "titlePadding": 23
      }
    },
    "y": {
      "field": "v",
      "type": "quantitative",
      "title": "Effluent Turbidity (NTU)",
      "scale": {"type": "log", "domain": [0.1, 10], "nice": false},
      "axis": {
        "values": [0.1, 0.2, 0.3, 0.4, 0.5, 0.6, 0.7, 0.8, 0.9, 1, 2, 3, 4, 5, 6, 7, 8, 9, 10],
        "labelExpr": "datum.value == 0.1 ? '0.1' : datum.value == 1 ? '1' : datum.value == 10 ? '10' : ''",
        "labelOverlap": false,
        "grid": true,
        "gridColor": "#a6a6a6",
        "gridWidth": 1,
        "domainColor": "#868686",
        "tickColor": "#868686",
        "tickSize": 6,
        "tickOpacity": {
          "condition": {"test": "datum.value == 0.1 || datum.value == 1 || datum.value == 10", "value": 1},
          "value": 0
        },
        "labelFont": "Liberation Serif",
        "labelFontWeight": "bold",
        "labelFontSize": 19,
        "labelColor": "black",
        "labelPadding": 12,
        "titleFont": "Open Sans",
        "titleFontWeight": "bold",
        "titleFontSize": 17,
        "titleColor": "black",
        "titlePadding": 28
      }
    },
    "color": {
      "field": "series",
      "type": "nominal",
      "scale": {
        "domain": ["a", "b", "c", "d"],
        "range": ["#4a7ebb", "#be4b48", "#98b954", "#7d60a0"]
      },
      "legend": {
        "title": null,
        "orient": "none",
        "legendX": 1101,
        "legendY": 418,
        "padding": 0,
        "symbolType": "stroke",
        "symbolSize": 1444,
        "symbolStrokeWidth": 2.4,
        "rowPadding": 9,
        "labelOffset": 9,
        "labelFont": "Open Sans",
        "labelFontWeight": "bold",
        "labelFontSize": 17,
        "labelColor": "black",
        "labelExpr": "{'a': 'Vc = .058 mm/s', 'b': 'Vc = .116 mm/s', 'c': 'Vc = .174 mm/s', 'd': 'Vc = .231 mm/s'}[datum.label]"
      }
    }
  },
  "config": {"view": {"stroke": null}}
}
